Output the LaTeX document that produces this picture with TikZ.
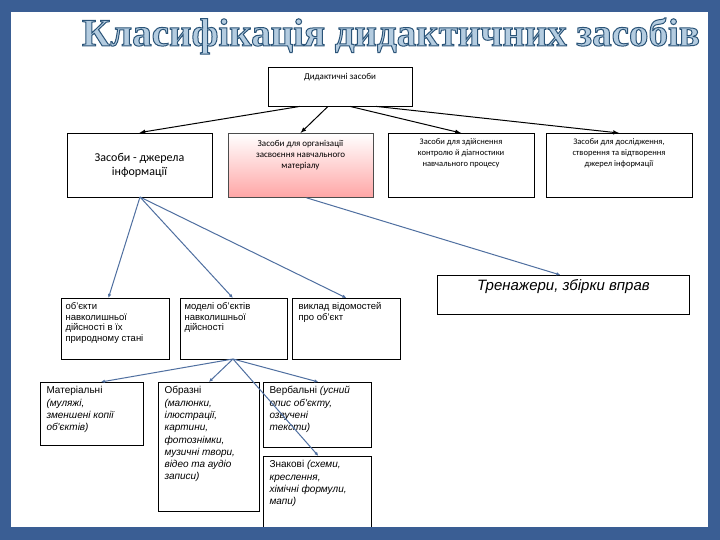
\documentclass[tikz,border=0pt]{standalone}
\usepackage{fontspec}
\usetikzlibrary{arrows.meta}
\setmainfont{Carlito}
\newfontfamily\arialf{Liberation Sans}
\newfontfamily\titlef{Liberation Serif}
\definecolor{frameblue}{HTML}{3A5E94}
\definecolor{linkblue}{HTML}{4F6FA0}
\definecolor{titlefill}{HTML}{B4CCE0}
\begin{document}
\begin{tikzpicture}[x=1pt,y=-1pt,
  box/.style={draw=black,line width=0.8pt,fill=white},
  arr/.style={-latex,line width=1pt,black},
  barr/.style={-{Latex[length=4pt,width=3.5pt]},line width=1pt,linkblue},
  ctext/.style={align=center,font=\fontsize{9}{11}\selectfont},
  ltext/.style={align=left,anchor=north west,font=\fontsize{9.5}{10.5}\selectfont\arialf},
  btext/.style={align=left,anchor=north west,font=\fontsize{10}{12.3}\selectfont\arialf}]
\fill[frameblue] (0,0) rectangle (720,540);
\fill[white] (11,12) rectangle (708,527);
\useasboundingbox (0,0) rectangle (720,540);
% title
\node (title) [font=\titlef\bfseries\fontsize{39}{42}\selectfont,text=titlefill] at (391,36) {\special{pdf:literal direct 0.17 0.33 0.47 RG 1 w 2 Tr}Класифікація дидактичних засобів\special{pdf:literal direct 0 Tr}};
% top
\node (top) [box,minimum width=144,minimum height=39] at (340,86.5) {};
\node[ctext,anchor=north] at (top.north) [yshift=-3] {Дидактичні засоби};
\node (b1) [box,minimum width=145,minimum height=64,align=center,font=\fontsize{12}{14}\selectfont] at (139.5,165) {Засоби - джерела\\інформації};
\node (b2) [draw=black!70,line width=0.8pt,top color=white,bottom color=red!35,minimum width=145,minimum height=64,anchor=north] at (300.5,133) {};
\node[ctext,anchor=north] at (b2.north) [yshift=-4] {Засоби для організації\\засвоєння навчального\\матеріалу};
\node (b3) [box,minimum width=146,minimum height=64,anchor=north] at (461,133) {};
\node[ctext,anchor=north,font=\fontsize{8.5}{11}\selectfont] at (b3.north) [yshift=-2] {Засоби для здійснення\\контролю й діагностики\\навчального процесу};
\node (b4) [box,minimum width=146,minimum height=64,anchor=north] at (619,133) {};
\node[ctext,anchor=north,font=\fontsize{8.5}{11}\selectfont] at (b4.north) [yshift=-2] {Засоби для дослідження,\\створення та відтворення\\джерел інформації};
\draw[arr] (top.south) ++(-40,0) -- (b1.north);
\draw[arr] (top.south) ++(-12,0) -- (b2.north);
\draw[arr] (top.south) ++(10,0) -- (b3.north);
\draw[arr] (top.south) ++(36,0) -- (b4.north);
% trenazhery
\node (tr) [box,minimum width=252,minimum height=39,anchor=north west] at (437,275) {};
\node[anchor=north,font=\arialf\itshape\fontsize{15}{16}\selectfont] at (tr.north) [yshift=-1] {Тренажери, збірки вправ};
% row3
\node (c1) [box,minimum width=108,minimum height=61,anchor=north west] at (61,298) {};
\node[ltext] at (c1.north west) [xshift=1,yshift=-1] {об’єкти\\навколишньої\\дійсності в їх\\природному стані};
\node (c2) [box,minimum width=107,minimum height=61,anchor=north west] at (180,298) {};
\node[ltext] at (c2.north west) [xshift=1,yshift=-1] {моделі об’єктів\\навколишньої\\дійсності};
\node (c3) [box,minimum width=108,minimum height=61,anchor=north west] at (292,298) {};
\node[ltext] at (c3.north west) [xshift=3,yshift=-1] {виклад відомостей\\про об’єкт};
\coordinate (s1) at (140,197);
\draw[barr] (s1) -- ([xshift=-7]c1.north);
\draw[barr] (s1) -- ([xshift=-1]c2.north);
\draw[barr] (s1) -- ([xshift=0]c3.north);
\draw[barr] ([xshift=6]b2.south) -- ([xshift=-3]tr.north);
% row4
\node (d1) [box,minimum width=103,minimum height=63,anchor=north west] at (40,382) {};
\node[btext] at (d1.north west) [xshift=3,yshift=-1] {Матеріальні\\\textit{(муляжі,}\\\textit{зменшені копії}\\\textit{об'єктів)}};
\node (d2) [box,minimum width=101,minimum height=129,anchor=north west] at (158,382) {};
\node[btext] at (d2.north west) [xshift=3,yshift=-1] {Образні\\\textit{(малюнки,}\\\textit{ілюстрації,}\\\textit{картини,}\\\textit{фотознімки,}\\\textit{музичні твори,}\\\textit{відео та аудіо}\\\textit{записи)}};
\node (d3) [box,minimum width=108,minimum height=65,anchor=north west] at (263,382) {};
\node[btext] at (d3.north west) [xshift=3,yshift=-1] {Вербальні \textit{(усний}\\\textit{опис об'єкту,}\\\textit{озвучені}\\\textit{тексти)}};
\node (d4) [box,minimum width=108,minimum height=71,anchor=north west] at (263,456) {};
\node[btext] at (d4.north west) [xshift=3,yshift=-1] {Знакові \textit{(схеми,}\\\textit{креслення,}\\\textit{хімічні формули,}\\\textit{мапи)}};
\fill[frameblue] (0,527) rectangle (720,540);
\coordinate (s2) at (233,359);
\draw[barr] (s2) -- ([xshift=9]d1.north);
\draw[barr] (s2) -- ([xshift=0]d2.north);
\draw[barr] (s2) -- ([xshift=1]d3.north);
\draw[barr] (s2) -- ([xshift=1]d4.north);
\end{tikzpicture}
\end{document}
